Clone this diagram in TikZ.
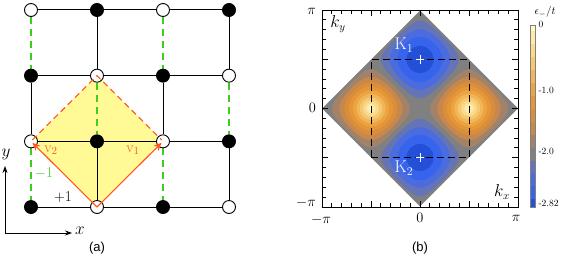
\documentclass[tikz,border=0pt]{standalone}
\usepackage{fontspec}
\newfontfamily\labfont{Liberation Sans}
\usetikzlibrary{arrows.meta}
\pgfdeclarelayer{background}
\pgfsetlayers{background,main}
\definecolor{latyellow}{RGB}{255,250,150}
\definecolor{bondgreen}{RGB}{60,205,30}
\definecolor{vecred}{RGB}{255,85,30}
\definecolor{c0}{RGB}{255,250,200}
\definecolor{c1}{RGB}{253,235,170}
\definecolor{c2}{RGB}{250,218,140}
\definecolor{c3}{RGB}{246,200,112}
\definecolor{c4}{RGB}{242,182,88}
\definecolor{c5}{RGB}{236,164,66}
\definecolor{c6}{RGB}{230,150,55}
\definecolor{c7}{RGB}{218,142,58}
\definecolor{c8}{RGB}{198,136,76}
\definecolor{c9}{RGB}{162,130,104}
\definecolor{c10}{RGB}{128,128,128}
\definecolor{c11}{RGB}{100,116,182}
\definecolor{c12}{RGB}{75,108,222}
\definecolor{c13}{RGB}{55,100,236}
\definecolor{c14}{RGB}{35,80,215}
\begin{document}
\begin{tikzpicture}[x=1pt,y=-1pt,
  site/.style={circle,draw=black,line width=0.9pt,minimum size=13pt,inner sep=0pt},
  filledsite/.style={site,fill=black},
  hollowsite/.style={site,fill=white},
  bond/.style={line width=1pt,black},
  negbond/.style={line width=1.3pt,bondgreen,dash pattern=on 7pt off 5pt},
  vec/.style={line width=1.1pt,vecred,shorten >=2pt,-{Stealth[length=8pt,width=7pt]}},
  cellline/.style={line width=1.1pt,vecred,dash pattern=on 6pt off 4pt,shorten <=2pt,shorten >=2pt},
  axisarrow/.style={line width=0.8pt,-{Stealth[length=7pt,width=5pt]}},
  bigfont/.style={font=\fontsize{15}{17}\selectfont},
  tickfont/.style={font=\fontsize{14}{16}\selectfont},
  barfont/.style={font=\fontsize{9.5}{11}\selectfont},
  panelfont/.style={font=\labfont\fontsize{13}{15}\selectfont},
]
\useasboundingbox (0,0) rectangle (564,261);

% ---------------- panel (a) ----------------
\foreach \i in {0,...,3}{\foreach \j in {0,...,3}{%
  \pgfmathtruncatemacro\parity{mod(\i+\j,2)}%
  \ifnum\parity=1
    \node[filledsite] (n\i\j) at ({31+66*\i},{10+65.67*\j}) {};
  \else
    \node[hollowsite] (n\i\j) at ({31+66*\i},{10+65.67*\j}) {};
  \fi}}

\begin{pgfonlayer}{background}
  \fill[latyellow] (n11.center) -- (n22.center) -- (n13.center) -- (n02.center) -- cycle;
  \foreach \j in {0,...,3}{
    \foreach \i/\k in {0/1,1/2,2/3}{\draw[bond] (n\i\j) -- (n\k\j);}}
  \foreach \i in {0,...,3}{\foreach \j in {0,...,2}{%
    \pgfmathtruncatemacro\jj{\j+1}%
    \pgfmathtruncatemacro\parity{mod(\i+\j,2)}%
    \ifnum\parity=0
      \draw[negbond] (n\i\j) -- (n\i\jj);
    \else
      \draw[bond] (n\i\j) -- (n\i\jj);
    \fi}}
\end{pgfonlayer}

\draw[cellline] (n02.center) -- (n11.center) -- (n22.center);
\draw[vec] (n13.center) -- (n22.center);
\draw[vec] (n13.center) -- (n02.center);

\node[bigfont,text=vecred] (lv2) at (51,150) {v$_2$};
\node[bigfont,text=vecred] (lv1) at (133,150) {v$_1$};
\node[bigfont,text=bondgreen] (lm1) at (44,173) {$-$1};
\node[bigfont] (lp1) at (63,197) {+1};

\coordinate (ax0) at (5,233);
\coordinate (axx) at (72,233);
\coordinate (axy) at (5,166);
\draw[axisarrow] (ax0) -- (axx);
\draw[axisarrow] (ax0) -- (axy);
\node[font=\fontsize{17}{19}\selectfont] (lx) at (80,231) {$x$};
\node[font=\fontsize{17}{19}\selectfont] (ly) at (6,154) {$y$};
\node[panelfont] (pa) at (97,248) {(a)};

% ---------------- panel (b) ----------------
\begin{scope}
  \clip (322,10) rectangle (518,207);
\begin{scope}[shift={(420,108.5)},x=0.5444pt,y=0.5444pt]
  \fill[c10] (-180,0) -- (0,180) -- (180,0) -- (0,-180) -- cycle;
  \foreach \r/\col in {0.95/c9,0.85/c8,0.75/c7,0.65/c6,0.55/c5,0.45/c4,0.35/c3,0.25/c2,0.15/c1,0.05/c0}{
    \foreach \cx in {-90,90}{
      \fill[\col] plot[variable=\t,domain=0:360,samples=97]
        ({\cx+asin(\r*cos(\t))},{asin(\r*sin(\t))}) -- cycle;}}
  \foreach \r/\col in {0.94736/c11,0.82310/c12,0.66144/c13,0.42131/c14}{
    \foreach \cy in {-90,90}{
      \fill[\col] plot[variable=\t,domain=0:360,samples=97]
        ({asin(\r*cos(\t))},{\cy+asin(\r*sin(\t))}) -- cycle;}}
  \draw[line width=1pt,dash pattern=on 7pt off 4pt] (-90,-90) rectangle (90,90);
  \draw[white,line width=0.9pt] (-8,90) -- (8,90) (0,82) -- (0,98);
  \draw[white,line width=0.9pt] (-8,-90) -- (8,-90) (0,-82) -- (0,-98);
\end{scope}
\end{scope}

% frame and ticks
\draw[line width=0.9pt] (322,10) rectangle (518,207);
\foreach \i in {1,...,19}{%
  \pgfmathsetmacro\px{322+9.8*\i}%
  \pgfmathsetmacro\py{10+9.85*\i}%
  \pgfmathtruncatemacro\ismaj{mod(\i,5)==0 ? 1 : 0}%
  \ifnum\ismaj=1 \def\tl{6}\else\def\tl{4}\fi
  \draw[line width=0.8pt] (\px,207) -- (\px,207-\tl);
  \draw[line width=0.8pt] (\px,10) -- (\px,10+\tl);
  \draw[line width=0.8pt] (322,\py) -- (322+\tl,\py);
  \draw[line width=0.8pt] (518,\py) -- (518-\tl,\py);
}

\node[text=white,font=\fontsize{17}{19}\selectfont] (k1) at (404,45) {K$_1$};
\node[text=white,font=\fontsize{17}{19}\selectfont] (k2) at (404,168) {K$_2$};
\node[font=\fontsize{16}{18}\selectfont] (lky) at (338,24) {$k_y$};
\node[font=\fontsize{16}{18}\selectfont] (lkx) at (502,192) {$k_x$};

\node[tickfont,anchor=east,inner sep=1pt] (ypi) at (317,11) {$\pi$};
\node[tickfont,anchor=east,inner sep=1pt] (y0) at (317,108) {$0$};
\node[tickfont,anchor=east,inner sep=1pt] (ympi) at (317,203) {$-\pi$};
\node[tickfont,inner sep=1pt] (xmpi) at (321,220) {$-\pi$};
\node[tickfont,inner sep=1pt] (x0) at (420,218) {$0$};
\node[tickfont,inner sep=1pt] (xpi) at (516,218) {$\pi$};
\node[panelfont] (pb) at (420,248) {(b)};

% colorbar
\foreach \k in {0,...,14}{%
  \pgfmathsetmacro\vt{max(0,0.2*\k-0.1)}%
  \pgfmathsetmacro\vb{min(2.82,0.2*\k+0.1)}%
  \fill[c\k] (530,{25+\vt*64.54}) rectangle (535,{25+\vb*64.54});
}
\draw[gray,line width=0.7pt] (530,25) rectangle (535,207);
\node[barfont,anchor=west] (cb0) at (535,24) {0};
\node[barfont,anchor=west] (cb1) at (535,90) {-1.0};
\node[barfont,anchor=west] (cb2) at (535,151) {-2.0};
\node[barfont,anchor=west] (cb3) at (535,203) {-2.82};
\node[font=\fontsize{11}{13}\selectfont] (cbt) at (545,12) {$\epsilon_-/t$};
\end{tikzpicture}
\end{document}
